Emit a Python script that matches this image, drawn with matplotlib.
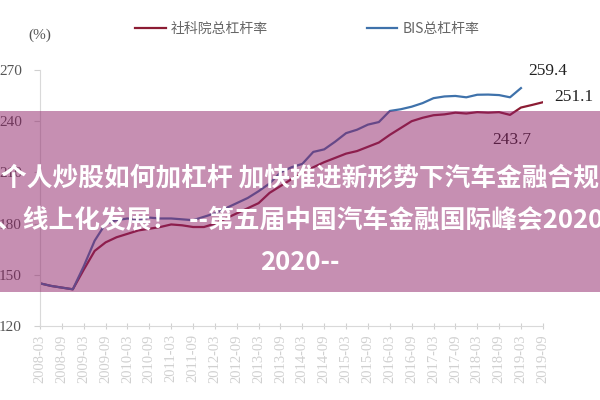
import matplotlib
matplotlib.use("Agg")
import matplotlib.pyplot as plt
from matplotlib.patches import Rectangle

plt.rcParams['font.family'] = ['Liberation Serif', 'Noto Sans CJK SC', 'DejaVu Sans']

# quarterly, 2008-03 .. 2019-09
tick_labels = ["2008-03", "2008-09", "2009-03", "2009-09", "2010-03", "2010-09",
               "2011-03", "2011-09", "2012-03", "2012-09", "2013-03", "2013-09",
               "2014-03", "2014-09", "2015-03", "2015-09", "2016-03", "2016-09",
               "2017-03", "2017-09", "2018-03", "2018-09", "2019-03", "2019-09"]

cass = [145, 143.5, 142.5, 141.5, 153, 164, 169, 172, 174, 176, 177, 178,
        179.5, 179, 178, 178, 180, 183, 186, 189, 192, 198, 202, 206,
        210, 213, 216, 218.5, 221, 222.5, 225, 227.5, 232, 236, 240, 242,
        243.5, 244, 245, 244.5, 245.3, 245, 245.3, 243.7, 248, 249.5, 251.1]

bis = [145, 143.5, 142.5, 141.5, 155, 170, 180, 182, 183, 182, 183.5, 183,
       183, 182.5, 182, 184, 186, 189, 192, 195, 199, 203.5, 210, 213,
       215, 222, 223.5, 228, 233, 235, 238, 239.5, 246, 247, 248.5, 250.6,
       253.5, 254.5, 254.8, 254, 255.5, 255.6, 255.3, 254, 259.4]

banner = ["个人炒股如何加杠杆 加快推进新形势下汽车金融合规",
          "、线上化发展！  --第五届中国汽车金融国际峰会2020",
          "2020--"]

red = '#8c1c34'
blue = '#3f72ab'
grey = '#666666'

fig = plt.figure(figsize=(6, 4), dpi=100)
ax = fig.add_axes([0.0667, 0.185, 0.838, 0.64])

ax.plot(range(len(cass)), cass, color=red, lw=1.6, label='社科院总杠杆率')
ax.plot(range(len(bis)), bis, color=blue, lw=1.6, label='BIS总杠杆率')

ax.set_xlim(0, len(cass) - 1)
ax.set_ylim(120, 270)
ax.set_yticks([120, 150, 180, 210, 240, 270])
ax.set_xticks(range(0, len(cass), 2))
ax.set_xticklabels(tick_labels, rotation=90, fontsize=10.5, color='#666666')
ax.tick_params(axis='y', labelsize=11, colors='#d0d0d0', labelcolor='#555555',
               length=4, pad=9)
ax.tick_params(axis='x', colors='#d0d0d0', direction='inout', length=4, pad=4)

for s in ['top', 'right']:
    ax.spines[s].set_visible(False)
for s in ['left', 'bottom']:
    ax.spines[s].set_color('#d9d9d9')

ax.annotate("259.4", xy=(44, 259.4), xytext=(19, 12), textcoords="offset points",
            ha='center', va='center', fontsize=12.5, color='#222222')
ax.annotate("251.1", xy=(46, 251.1), xytext=(22, 3.5), textcoords="offset points",
            ha='center', va='center', fontsize=12.5, color='#222222')
ax.annotate("243.7", xy=(43, 243.7), xytext=(1.5, -18), textcoords="offset points",
            ha='center', va='center', fontsize=12.5, color='#222222')

fig.text(0.0667, 0.9125, "(%)", ha='center', va='center', fontsize=11, color='#555555')

leg = fig.legend(loc='center', bbox_to_anchor=(0.512, 0.9275), ncol=2, frameon=False,
                 handlelength=2.2, handletextpad=0.36, columnspacing=7.1,
                 prop={'family': ['Noto Sans CJK SC'], 'size': 10})
for t in leg.get_texts():
    t.set_color(grey)

# pink banner laid over the chart
band = Rectangle((0, 0.27), 1, 0.4525, transform=fig.transFigure,
                 facecolor=(142/255, 32/255, 102/255), alpha=0.5, lw=0, zorder=5)
fig.add_artist(band)
for txt, yy in zip(banner, [0.555, 0.45, 0.345]):
    fig.text(0.5, yy, txt, ha='center', va='center', color='white', fontsize=18.5,
             fontweight='bold', family=['Noto Sans CJK SC', 'DejaVu Sans'], zorder=6)

fig.savefig("out.png", dpi=100)
